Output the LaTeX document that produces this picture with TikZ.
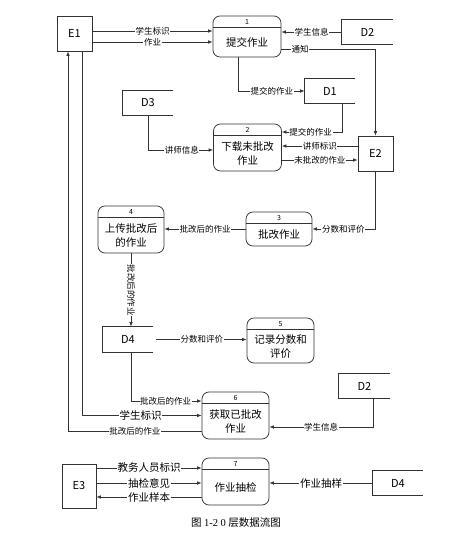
\documentclass[tikz,border=0pt]{standalone}
\usepackage{fontspec}
\setmainfont{Noto Sans CJK SC}
\newfontfamily\capfont{Liberation Serif}
\usetikzlibrary{arrows.meta}

\begin{document}
\begin{tikzpicture}[x=1pt,y=-1pt,line width=0.75pt]
        \tikzstyle{every node}=[font=\fontsize{10.5}{13.5}\selectfont]
        \tikzstyle{line}=[draw=black!80]
        \tikzstyle{flow}=[draw=black!80,-{Latex[length=4.5pt,width=3.6pt]}]
        \tikzstyle{ent}=[draw=black!80,minimum width=35pt,minimum height=35pt,inner sep=0pt,font=\fontsize{11}{13}\selectfont]
        \tikzstyle{store}=[minimum width=50pt,minimum height=24pt,inner sep=0pt,font=\fontsize{11}{13}\selectfont]
        \tikzstyle{proc}=[draw=black!80,rounded corners=7pt,inner sep=0pt]
        \tikzstyle{pnum}=[inner sep=0pt,font=\fontsize{7}{8}\selectfont]
        \tikzstyle{ptext}=[inner sep=0pt,align=center]
        \tikzstyle{lbl}=[fill=white,inner sep=0.6pt,pos=.5,font=\fontsize{8.5}{9}\selectfont]
        \tikzstyle{big}=[font=\fontsize{10.5}{11}\selectfont]
        \useasboundingbox (0,0) rectangle (471,536);

        % external entities
        \node[ent] (E1) at (74.5,33.5) {E1};
        \node[ent] (E2) at (375.5,153.5) {E2};
        \node[ent,minimum width=34pt,minimum height=44pt] (E3) at (79,486) {E3};

        % data stores
        \node[store,minimum width=51pt] (D2a) at (367.5,32) {D2};
        \node[store] (D1) at (330,91) {D1};
        \node[store] (D3) at (148,103) {D3};
        \node[store,minimum height=25pt] (D4a) at (128,339.5) {D4};
        \node[store,minimum width=51pt] (D2b) at (364.5,386) {D2};
        \node[store] (D4b) at (398,483) {D4};
        \foreach \d in {D2a,D1,D3,D4a,D2b,D4b}
            \draw[line] (\d.north east) -- (\d.north west) -- (\d.south west) -- (\d.south east);

        % processes
        \foreach \n/\x/\y/\w/\h/\txt in {1/247/36.5/68/41/提交作业,
                2/247.5/147.5/68/47/下载未批改\\作业,
                3/279/229/66/34/批改作业,
                4/131/229.5/66/47/上传批改后\\的作业,
                5/280.5/340.5/67/45/记录分数和\\评价,
                6/235.5/415.5/67/47/获取已批改\\作业,
                7/235.5/481.5/67/47/作业抽检}
        {
            \node[proc,minimum width=\w pt,minimum height=\h pt] (P\n) at (\x,\y) {};
            \draw[line] ([yshift=-12pt]P\n.north west) -- ([yshift=-12pt]P\n.north east);
            \node[pnum] (P\n-n) at ([yshift=-6pt]P\n.north) {\n};
            \node[ptext] (P\n-t) at ([yshift=-6pt]P\n.center) {\txt};
        }

        % flows
        \draw[flow] ([yshift=2.5pt]E1.east) coordinate (f1) -- (f1 -| P1.west) node[lbl]{学生标识};
        \draw[flow] ([yshift=-8.5pt]E1.east) coordinate (f2) -- (f2 -| P1.west) node[lbl]{作业};
        \draw[flow] (D2a.west) -- (D2a.west -| P1.east) node[lbl]{学生信息};
        \draw[flow] ([yshift=-12.5pt]P1.east) -| (E2.north) node[lbl,pos=.1]{通知};
        \draw[flow] ([xshift=-9pt]P1.south) |- (D1.west) node[lbl,pos=.755]{提交的作业};
        \draw[flow] (D3.south) |- ([yshift=-2.5pt]P2.west) node[lbl,pos=.76]{讲师信息};
        \draw[flow] ([xshift=12pt]D1.south) |- ([yshift=15.5pt]P2.east) node[lbl,pos=.76]{提交的作业};
        \draw[flow] ([yshift=7.5pt]E2.west) coordinate (f8) -- (f8 -| P2.east) node[lbl]{讲师标识};
        \draw[flow] ([yshift=-12.5pt]P2.east) coordinate (f9) -- (f9 -| E2.west) node[lbl]{未批改的作业};
        \draw[flow] (E2.south) |- (P3.east) node[lbl,pos=.755]{分数和评价};
        \draw[flow] (P3.west) -- (P3.west -| P4.east) node[lbl]{批改后的作业};
        \draw[flow] (P4.south) -- (P4.south |- D4a.north) node[lbl,rotate=-90]{批改后的作业};
        \draw[flow,shorten <=3pt] (D4a.east) -- (D4a.east -| P5.west) node[lbl,pos=.52]{分数和评价};
        \draw[flow] (D4a.south -| P4.south) |- ([yshift=14.5pt]P6.west) node[lbl,pos=.745]{批改后的作业};
        \draw[flow] ([xshift=7.5pt]E1.south) |- (P6.west) node[lbl,big,pos=.745]{学生标识};
        \draw[flow] ([yshift=-15.5pt]P6.west) -| ([xshift=-6.5pt]E1.south) node[lbl,pos=.25]{批改后的作业};
        \draw[flow] ([xshift=8.5pt]D2b.south) |- ([yshift=-11.5pt]P6.east) node[lbl,pos=.75]{学生信息};
        \draw[flow] ([yshift=18pt]E3.east) coordinate (f18) -- (f18 -| P7.west) node[lbl,big]{教务人员标识};
        \draw[flow] ([yshift=3pt]E3.east) coordinate (f19) -- (f19 -| P7.west) node[lbl,big]{抽检意见};
        \draw[flow] ([yshift=-15.5pt]P7.west) coordinate (f20) -- (f20 -| E3.east) node[lbl,big]{作业样本};
        \draw[flow] (D4b.west) -- (D4b.west -| P7.east) node[lbl,big]{作业抽样};

        % caption
        \node (cap) at (236,523) {图 {\capfont 1-2 0} 层数据流图};
\end{tikzpicture}
\end{document}
